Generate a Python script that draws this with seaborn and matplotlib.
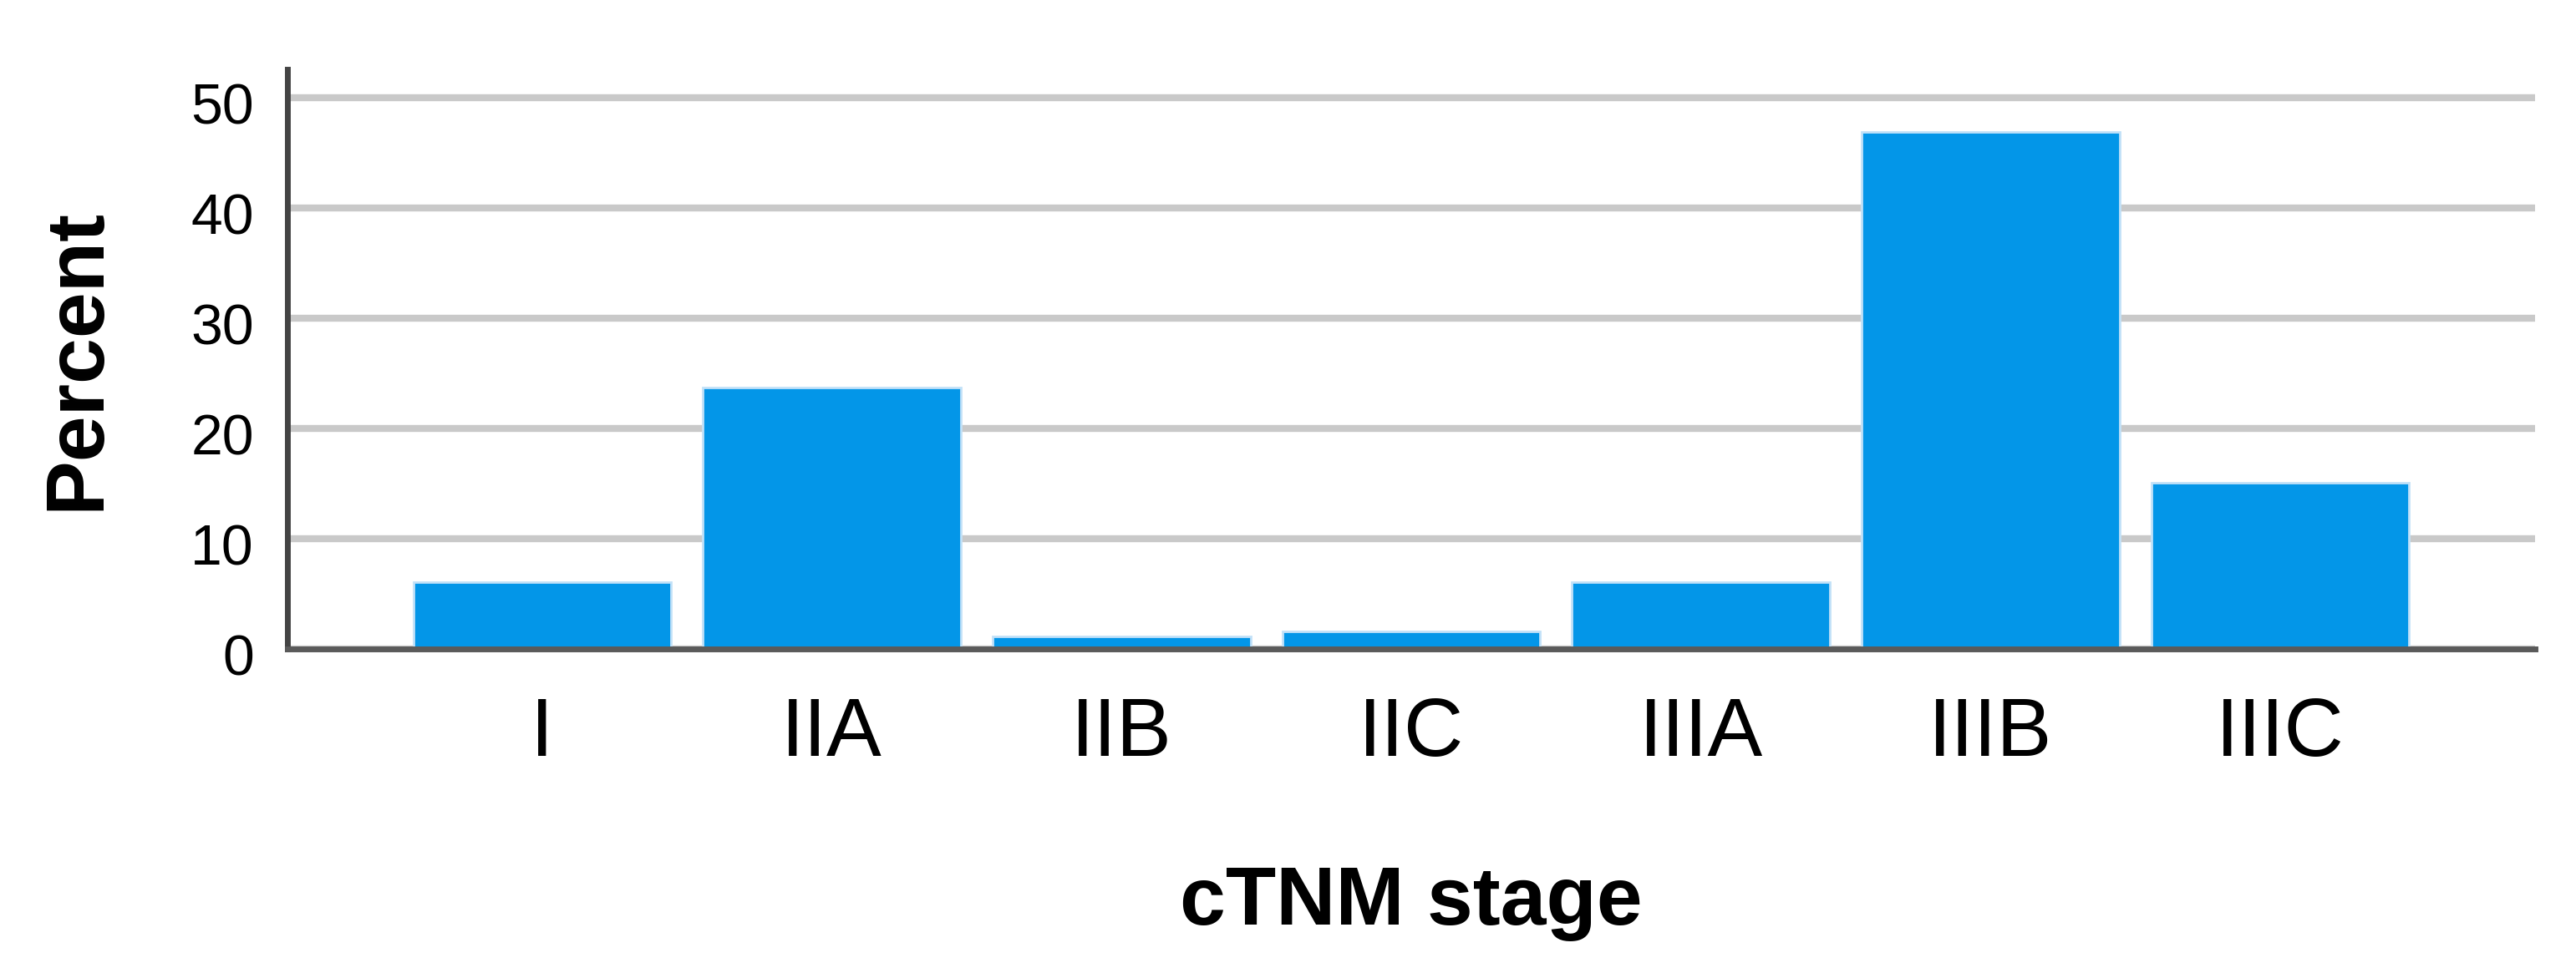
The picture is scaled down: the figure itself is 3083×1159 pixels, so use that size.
import matplotlib
matplotlib.use('Agg')
import matplotlib.pyplot as plt
import matplotlib.transforms as mtransforms
import seaborn as sns
import pandas as pd

# ---- data ----
stages = ['I', 'IIA', 'IIB', 'IIC', 'IIIA', 'IIIB', 'IIIC']
percent = [6.1, 23.7, 1.1, 1.6, 6.1, 46.9, 15.1]
y_ticks = [0, 10, 20, 30, 40, 50]
x_title = 'cTNM stage'
y_title = 'Percent'

sns.set_style('white')
plt.rcParams['font.family'] = ['Liberation Sans', 'DejaVu Sans']
plt.rcParams['text.color'] = 'black'
plt.rcParams['axes.labelcolor'] = 'black'

W, H = 3083, 1159
fig = plt.figure(figsize=(W / 100, H / 100), dpi=100)
left_px, right_px, top_px, base_px = 344, 3034, 83, 777
ax = fig.add_axes([left_px / W, (H - base_px) / H,
                   (right_px - left_px) / W, (base_px - top_px) / H])

df = pd.DataFrame({'stage': stages, 'percent': percent})
sns.barplot(data=df, x='stage', y='percent', color='#0396e8', saturation=1,
            width=0.89, edgecolor='#c2e1f8', linewidth=2, ax=ax, zorder=2)

ax.set_xlim(-0.88, 6.88)
ax.set_ylim(0, 52.6)
ax.set_yticks(y_ticks)

ax.set_axisbelow(True)
ax.yaxis.grid(True, color='#c9c9c9', linewidth=6)
ax.xaxis.grid(False)

for s in ['top', 'right']:
    ax.spines[s].set_visible(False)
ax.spines['left'].set_color('#444444')
ax.spines['left'].set_linewidth(5)
ax.spines['bottom'].set_color('#5a5a5a')
ax.spines['bottom'].set_linewidth(5)
ax.spines['left'].set_zorder(3)
ax.spines['bottom'].set_zorder(3)

ax.tick_params(axis='x', length=0, labelsize=71, pad=41, colors='black')
ax.tick_params(axis='y', length=0, labelsize=49, pad=29, colors='black')

offset = mtransforms.ScaledTranslation(0, -0.065, fig.dpi_scale_trans)
for lbl in ax.get_yticklabels():
    lbl.set_transform(lbl.get_transform() + offset)

ax.set_xlabel(x_title, fontsize=71, fontweight='bold', color='black')
ax.xaxis.set_label_coords(0.5, -0.439)
ax.xaxis.label.set_va('center')
ax.set_ylabel(y_title, fontsize=71, fontweight='bold', color='black')
ax.yaxis.set_label_coords(-0.0934, 0.5)
ax.yaxis.label.set_va('center')
ax.yaxis.label.set_ha('center')

fig.savefig('out.png', dpi=100)
